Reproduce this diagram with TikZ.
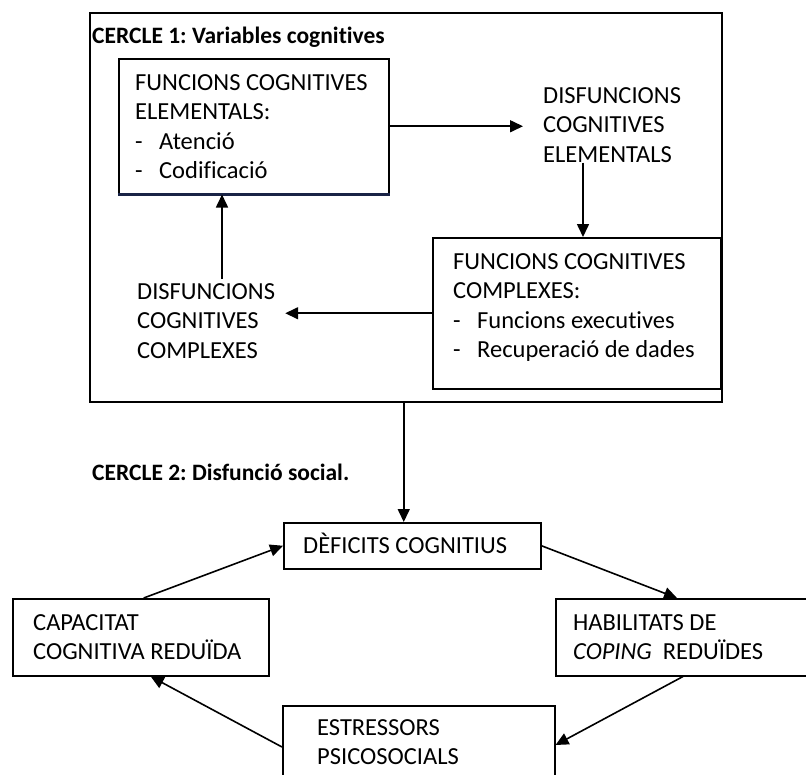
\documentclass[tikz,border=0pt]{standalone}
\usepackage{fontspec}
\setmainfont{Carlito}[Ligatures={CommonOff}]
\usetikzlibrary{arrows.meta,calc}
\definecolor{boxblue}{RGB}{25,35,70}
\newcommand\fstr{\rule{0pt}{20pt}}
\newcommand\itm[1]{\makebox[24pt][l]{-}#1}
\frenchspacing
\begin{document}
\begin{tikzpicture}[x=1pt,y=-1pt,
  box/.style={draw=black,line width=1.5pt,anchor=north west,inner sep=0pt},
  txt/.style={anchor=north west,inner sep=0pt,align=left,font=\fontsize{24.5}{29.5}\selectfont},
  ttl/.style={anchor=base west,inner sep=0pt,font=\fontsize{23.5}{29}\selectfont\bfseries},
  lbl/.style={anchor=base west,inner sep=0pt,font=\fontsize{24.5}{29.5}\selectfont},
  arr/.style={line width=1.6pt,-{Triangle[length=13pt,width=12pt]}}]
\useasboundingbox (0,0) rectangle (806,774);
\clip (0,0) rectangle (806,774);
% Circle 1
\node[box,minimum width=632pt,minimum height=389pt] (outer) at (89,12) {};
\node[ttl] (t1) at (92,43) {CERCLE 1: Variables cognitives};
\node[box,minimum width=270pt,minimum height=135pt] (fce) at (118,58) {};
\draw[line width=2.6pt,boxblue] (fce.south west) -- (fce.south east);
\node[txt] (fcet) at (135,70) {\fstr FUNCIONS COGNITIVES\\ELEMENTALS:\\\itm{Atenció}\\\itm{Codificació}};
\node[txt] (dcet) at (543,83) {\fstr DISFUNCIONS\\COGNITIVES\\ELEMENTALS};
\node[box,minimum width=288pt,minimum height=151pt] (fcc) at (432,237) {};
\node[txt] (fcct) at (453,249) {\fstr FUNCIONS COGNITIVES\\COMPLEXES:\\\itm{Funcions executives}\\\itm{Recuperació de dades}};
\node[txt] (dcct) at (137,279) {\fstr DISFUNCIONS\\COGNITIVES\\COMPLEXES};
\draw[arr,shorten >=20pt] (fce.east) -- (fce.east -| dcet.west);
\draw[arr] ([xshift=40pt]dcet.south west) -- ([xshift=40pt]dcet.south west |- fcc.north);
\draw[arr,shorten >=10pt] (fcc.west) -- (fcc.west -| dcct.east);
\draw[arr] ([xshift=85pt]dcct.north west) -- ([xshift=85pt]dcct.north west |- fce.south);
% Circle 2
\node[ttl] (t2) at (92,480) {CERCLE 2: Disfunció social.};
\node[box,minimum width=257pt,minimum height=46pt] (def) at (283,522) {};
\node[lbl] (deft) at (303,553) {DÈFICITS COGNITIUS};
\node[box,minimum width=256pt,minimum height=77pt] (cap) at (12,598) {};
\node[txt] (capt) at (33,610) {\fstr CAPACITAT\\COGNITIVA REDUÏDA};
\node[box,minimum width=280pt,minimum height=77pt] (hab) at (555,598) {};
\node[txt] (habt) at (573,610) {\fstr HABILITATS DE\\\textit{COPING}\hspace{0.45em}REDUÏDES};
\node[box,minimum width=272pt,minimum height=100pt] (est) at (282,705) {};
\node[txt] (estt) at (317,715) {\fstr ESTRESSORS\\PSICOSOCIALS};
\draw[arr] ([xshift=-2pt]outer.south) -- ([xshift=-2pt]outer.south |- def.north);
\draw[arr] ([xshift=3pt]cap.north) -- (def.west);
\draw[arr] (def.east) -- ([xshift=122pt]hab.north west);
\draw[arr] ([xshift=128pt]hab.south west) -- ([yshift=-40pt]est.north east);
\draw[arr] ([yshift=-42pt]est.north west) -- ([xshift=10pt]cap.south);
\end{tikzpicture}
\end{document}
